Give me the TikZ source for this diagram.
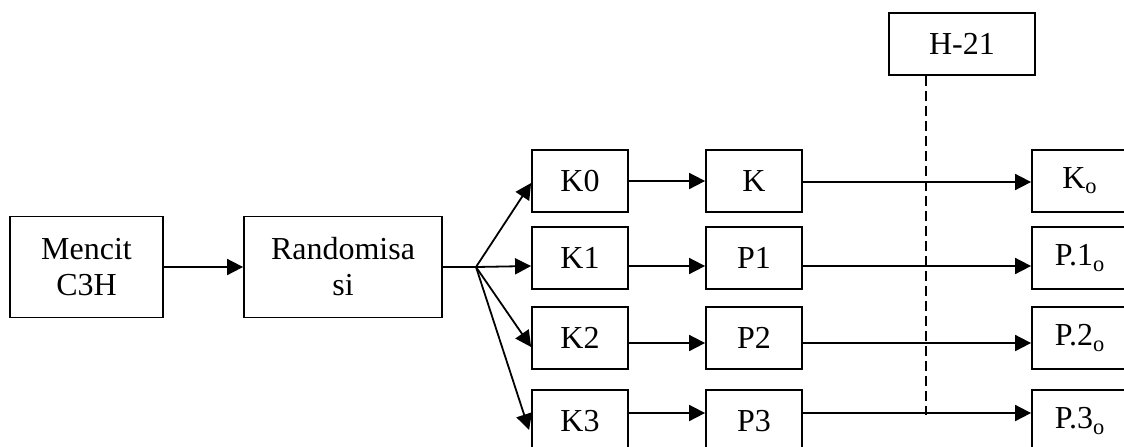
\documentclass[tikz,border=0pt]{standalone}
\usepackage{fontspec}
\setmainfont{Liberation Serif}
\usetikzlibrary{arrows.meta}
\begin{document}
\begin{tikzpicture}[x=0.5pt,y=-0.5pt,
  box/.style={draw,line width=0.9pt,font=\fontsize{16}{18}\selectfont,align=center,inner sep=0pt},
  conn/.style={line width=0.9pt,-{Triangle[length=8pt,width=8pt]}},
  guide/.style={line width=0.6pt,dash pattern=on 5pt off 2.5pt}]
\useasboundingbox (0,0) rectangle (1124,446);
\clip (0,0) rectangle (1124,446);
\node[box,minimum width=76.5pt,minimum height=50.5pt] (m) at (86.5,267) {Mencit\\C3H};
\node[box,minimum width=99pt,minimum height=50.5pt] (r) at (343,267) {Randomisa\\si};
\foreach \n/\t/\p/\rr/\y in {0/K0/K/K\textsubscript{o}/181, 1/K1/P1/P.1\textsubscript{o}/258, 2/K2/P2/P.2\textsubscript{o}/338, 3/K3/P3/P.3\textsubscript{o}/421}{
  \node[box,minimum width=48pt,minimum height=31pt] (k\n) at (580,\y) {\t};
  \node[box,minimum width=48pt,minimum height=31pt] (p\n) at (754,\y) {\p};
  \node[box,minimum width=48pt,minimum height=31pt] (o\n) at (1080,\y) {\rr};
}
\node[box,minimum width=73pt,minimum height=31pt] (h) at (962,44) {H-21};
\coordinate (b) at (476,267);
\coordinate (hb) at (926,415);
\draw[conn] (m.east) -- (r.west);
\draw[line width=0.9pt] (r.east) -- (b);
\draw[conn] (b) -- ([yshift=-1pt]k0.west);
\draw[conn] (b) -- ([yshift=-4pt]k1.west);
\draw[conn] (b) -- ([yshift=-4.5pt]k2.west);
\draw[conn] (b) -- ([yshift=-4.5pt,xshift=-1pt]k3.west);
\draw[guide] ([xshift=-18pt]h.south) -- (hb);
\draw[conn] (k0.east) -- (p0.west);
\draw[conn] ([yshift=-4pt]k1.east) -- ([yshift=-4pt]p1.west);
\draw[conn] ([yshift=-2.5pt]k2.east) -- ([yshift=-2.5pt]p2.west);
\draw[conn] ([yshift=4pt]k3.east) -- ([yshift=4pt]p3.west);
\draw[conn] ([yshift=-0.5pt]p0.east) -- ([yshift=-0.5pt]o0.west);
\draw[conn] ([yshift=-4pt]p1.east) -- ([yshift=-4pt]o1.west);
\draw[conn] ([yshift=-2.5pt]p2.east) -- ([yshift=-2.5pt]o2.west);
\draw[conn] ([yshift=4pt]p3.east) -- ([yshift=4pt]o3.west);
\end{tikzpicture}
\end{document}
